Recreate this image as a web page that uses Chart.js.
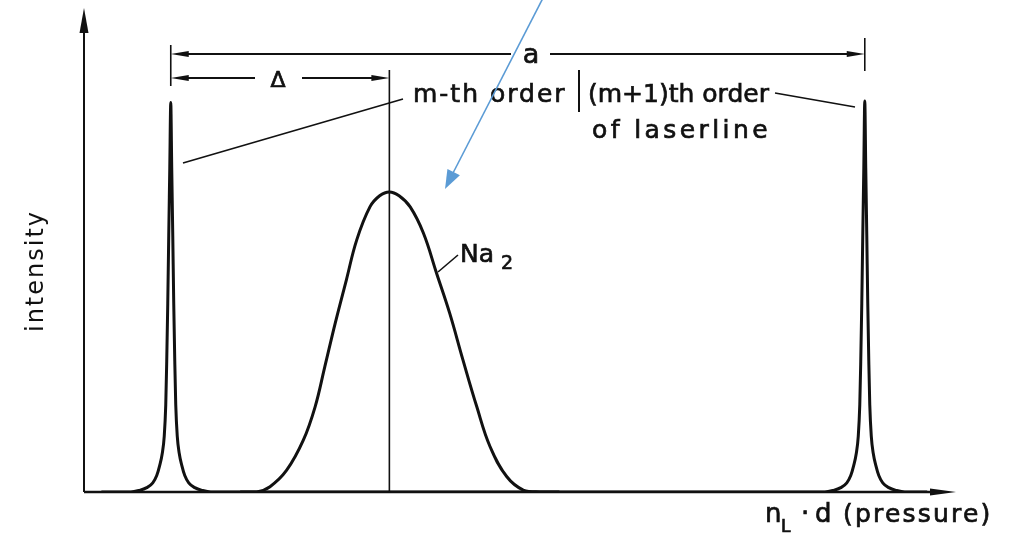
<!DOCTYPE html>
<html>
<head>
<meta charset="utf-8">
<script src="https://cdn.jsdelivr.net/npm/chart.js@4.4.1/dist/chart.umd.min.js"></script>
<style>
  html, body { margin: 0; padding: 0; background: #fff; }
  #wrap { width: 1020px; height: 536px; }
</style>
</head>
<body>
<div id="wrap"><canvas id="grafico"></canvas></div>
<script>
// eje x en unidades del rango espectral libre: orden m en 0, orden m+1 en 1
var laserX = [-0.1, -0.0576, -0.0461, -0.0346, -0.0259, -0.0202, -0.0159, -0.0122, -0.0094, -0.0072, -0.0058, -0.0043, -0.0029, -0.0014, 0,
              0.0014, 0.0029, 0.0043, 0.0058, 0.0072, 0.0094, 0.0122, 0.0159, 0.0202, 0.0259, 0.0346, 0.0461, 0.0576,
              0.5,
              0.9424, 0.9539, 0.9654, 0.9741, 0.9798, 0.9841, 0.9878, 0.9906, 0.9928, 0.9942, 0.9957, 0.9971, 0.9986, 1,
              1.0014, 1.0029, 1.0043, 1.0058, 1.0072, 1.0094, 1.0122, 1.0159, 1.0202, 1.0259, 1.0346, 1.0461, 1.0576, 1.09];
var laserY = [0, 0, 0.3, 0.9, 1.9, 3.4, 5.5, 8, 11.5, 18, 27, 39, 53, 67, 80.5,
              67, 53, 39, 27, 18, 11.5, 8, 5.5, 3.4, 1.9, 0.9, 0.3, 0,
              0,
              0, 0.3, 0.9, 1.9, 3.4, 5.5, 8, 11.5, 18, 27, 39, 53, 67, 80.8,
              67, 53, 39, 27, 18, 11.5, 8, 5.5, 3.4, 1.9, 0.9, 0.3, 0, 0];

// banda de Na2
var na2X = [0.10, 0.124, 0.143, 0.167, 0.191, 0.208, 0.222, 0.237, 0.253, 0.268, 0.287, 0.301, 0.315,
            0.329, 0.345, 0.364, 0.383, 0.402, 0.421, 0.441, 0.460, 0.484, 0.508, 0.532, 0.56];
var na2Y = [0, 0, 1.1, 4.5, 10.7, 17.6, 25.9, 34.9, 43.8, 52.1, 58.9, 61.2, 62.0,
            61.2, 58.9, 53.5, 45.2, 36.9, 27.3, 17.6, 9.4, 3.2, 0.4, 0, 0];
var na2Centro = 0.315;

var xMin = -0.125, xMax = 1.13;
var yMin = 0, yMax = 100;

function puntos(xs, ys) {
  return xs.map(function (x, i) { return { x: x, y: ys[i] }; });
}

// punta de flecha rellena, con la punta en (x2,y2)
function punta(ctx, x1, y1, x2, y2, largo, ancho) {
  var ang = Math.atan2(y2 - y1, x2 - x1);
  ctx.beginPath();
  ctx.moveTo(x2, y2);
  ctx.lineTo(x2 - largo * Math.cos(ang) + ancho * Math.sin(ang), y2 - largo * Math.sin(ang) - ancho * Math.cos(ang));
  ctx.lineTo(x2 - largo * Math.cos(ang) - ancho * Math.sin(ang), y2 - largo * Math.sin(ang) + ancho * Math.cos(ang));
  ctx.closePath();
  ctx.fill();
}

function linea(ctx, x1, y1, x2, y2, w) {
  ctx.lineWidth = w;
  ctx.beginPath();
  ctx.moveTo(x1, y1);
  ctx.lineTo(x2, y2);
  ctx.stroke();
}

// texto con un trazo fino encima para engrosar la letra
function texto(ctx, t, x, y, size, espacio, align) {
  ctx.font = size + 'px "DejaVu Sans"';
  ctx.letterSpacing = (espacio || 0) + 'px';
  ctx.textAlign = align || 'left';
  ctx.textBaseline = 'alphabetic';
  ctx.lineWidth = 0.7;
  ctx.fillText(t, x, y);
  ctx.strokeText(t, x, y);
}

// ejes con flechas y anotaciones
var ejes = {
  id: 'ejes',
  beforeDatasetsDraw: function (chart) {
    var ctx = chart.ctx, xs = chart.scales.x, ys = chart.scales.y;
    var x0 = xs.getPixelForValue(xMin), y0 = ys.getPixelForValue(0);
    ctx.save();
    ctx.strokeStyle = '#111';
    ctx.fillStyle = '#111';
    linea(ctx, x0, y0, x0, 30, 2);
    punta(ctx, x0, 40, x0, 8, 25, 4.5);
    linea(ctx, x0, y0, 935, y0, 2.6);
    punta(ctx, 900, y0, 956, y0, 26, 3.5);
    ctx.restore();
  },
  afterDraw: function (chart) {
    var ctx = chart.ctx, xs = chart.scales.x, ys = chart.scales.y;
    var xm = xs.getPixelForValue(0), xm1 = xs.getPixelForValue(1);
    var xna = xs.getPixelForValue(na2Centro), y0 = ys.getPixelForValue(0);
    ctx.save();
    ctx.strokeStyle = '#111';
    ctx.fillStyle = '#111';

    // línea vertical en el centro de la banda
    linea(ctx, xna, 70, xna, y0, 1.6);

    // cota a
    linea(ctx, xm, 45, xm, 86, 1.6);
    linea(ctx, xm1, 38, xm1, 71, 1.6);
    linea(ctx, xm + 10, 54, 511, 54, 1.8);
    linea(ctx, 550, 54, xm1 - 10, 54, 1.8);
    punta(ctx, xm + 30, 54, xm, 54, 18, 3);
    punta(ctx, xm1 - 30, 54, xm1, 54, 18, 3);
    texto(ctx, 'a', 531, 63, 27, 0, 'center');

    // cota delta
    linea(ctx, xm + 10, 78, 255, 78, 1.8);
    linea(ctx, 302, 78, xna - 10, 78, 1.8);
    punta(ctx, xm + 30, 78, xm, 78, 18, 3);
    punta(ctx, xna - 30, 78, xna, 78, 18, 3);
    texto(ctx, 'Δ', 278, 87, 22, 0, 'center');

    // rótulos de los órdenes
    texto(ctx, 'm-th order', 413, 102, 25, 2);
    linea(ctx, 579, 70, 579, 112, 2);
    texto(ctx, '(m+1)th order', 588, 102, 25, 0);
    texto(ctx, 'of laserline', 592, 138, 25, 3.4);
    linea(ctx, 403, 99, 183, 163, 1.6);
    linea(ctx, 775, 93, 855, 107, 1.6);

    // rótulo Na2
    texto(ctx, 'Na', 460, 262, 25, 0);
    texto(ctx, '2', 501, 269, 19, 0);
    linea(ctx, 438, 272, 458, 255, 1.6);

    // títulos de los ejes
    texto(ctx, 'n', 765, 522, 26, 0);
    texto(ctx, 'L', 781, 532, 17, 0);
    texto(ctx, '·', 801, 522, 26, 0);
    texto(ctx, 'd', 815, 522, 26, 0);
    texto(ctx, '(pressure)', 843, 522, 25, 2.2);

    ctx.save();
    ctx.translate(43, 271);
    ctx.rotate(-Math.PI / 2);
    ctx.font = '24px "DejaVu Sans"';
    ctx.letterSpacing = '2px';
    ctx.textAlign = 'center';
    ctx.fillText('intensity', 0, 0);
    ctx.restore();

    // flecha azul
    ctx.strokeStyle = '#5b9bd5';
    ctx.fillStyle = '#5b9bd5';
    linea(ctx, 543, -2, 452, 175, 1.6);
    punta(ctx, 543, -2, 445, 189, 19, 7);
    ctx.restore();
  }
};

new Chart(document.getElementById('grafico'), {
  type: 'line',
  data: {
    datasets: [
      {
        label: 'laserline',
        data: puntos(laserX, laserY),
        borderColor: '#111',
        borderWidth: 3,
        pointRadius: 0,
        cubicInterpolationMode: 'monotone',
        fill: false
      },
      {
        label: 'Na2',
        data: puntos(na2X, na2Y),
        borderColor: '#111',
        borderWidth: 3,
        pointRadius: 0,
        tension: 0.4,
        fill: false
      }
    ]
  },
  options: {
    responsive: true,
    maintainAspectRatio: false,
    animation: false,
    layout: { padding: { left: 84, top: 8, right: 65, bottom: 44 } },
    plugins: { legend: { display: false }, tooltip: { enabled: false } },
    scales: {
      x: { type: 'linear', min: xMin, max: xMax, display: false },
      y: { min: yMin, max: yMax, display: false }
    }
  },
  plugins: [ejes]
});
</script>
</body>
</html>
